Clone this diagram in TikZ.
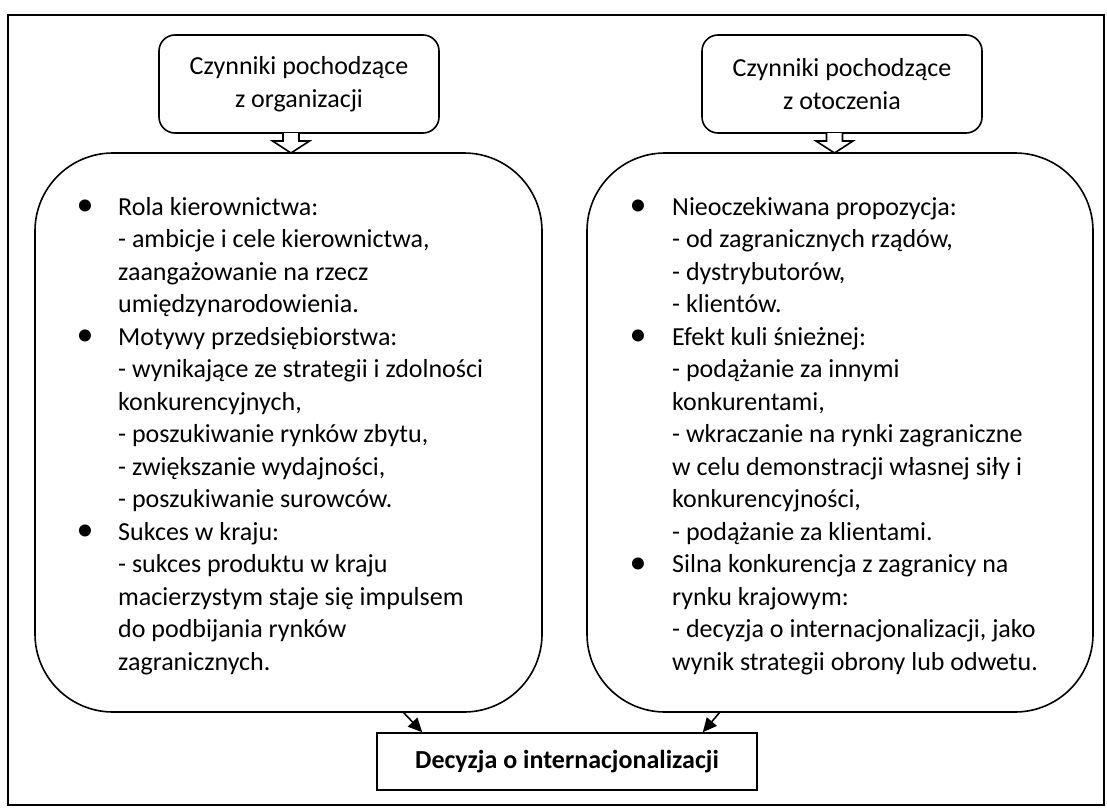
\documentclass[tikz,border=0pt]{standalone}
\usepackage{fontspec}
\setmainfont{Carlito}
\usetikzlibrary{arrows.meta}
\begin{document}
\begin{tikzpicture}[x=1pt,y=-1pt,
  every node/.style={font=\fontsize{26}{32.5}\selectfont},
  frame/.style={draw, line width=2pt},
  topbox/.style={draw, line width=1.6pt, rounded corners=16pt, minimum width=280pt, minimum height=98pt, align=center, inner sep=0pt, font=\fontsize{26}{33}\selectfont},
  bigbox/.style={draw, line width=1.6pt, rounded corners=78pt, inner sep=0pt},
  decbox/.style={draw, line width=1.6pt, minimum width=380pt, minimum height=57pt, inner sep=0pt, font=\fontsize{26}{32}\selectfont\bfseries},
  txtline/.style={anchor=base west, inner sep=0pt},
  bul/.style={inner sep=0pt, font=\fontsize{34}{34}\selectfont},
  hollow/.style={draw, line width=1.6pt, fill=white, line join=miter},
  conn/.style={draw, line width=1.6pt, -{Triangle[length=14pt,width=13pt]}}
]
\useasboundingbox (0,0) rectangle (1107,808);
\draw[frame] (8,15) rectangle (1104,805);

% top boxes
\node[topbox] (TL) at (299,84) {Czynniki pochodzące\\z organizacji};
\node[topbox] (TR) at (842,84) {Czynniki pochodzące\\z otoczenia};

% big boxes
\node[bigbox, minimum width=507pt, minimum height=559pt] (BL) at (288.5,432.5) {};
\node[bigbox, minimum width=506pt, minimum height=559pt] (BR) at (840,432.5) {};

% hollow arrows
\coordinate (aL) at (291,133);
\coordinate (aR) at (834.5,133);
\foreach \a in {aL,aR}{
  \draw[hollow] (\a) ++(-8,0) -- ++(0,8) -- ++(-10.5,0) -- ++(18.5,12) -- ++(18.5,-12) -- ++(-10.5,0) -- ++(0,-8);
}

% left text
\foreach \t [count=\i] in {
  {Rola kierownictwa:},
  {- ambicje i cele kierownictwa,},
  {zaangażowanie na rzecz},
  {umiędzynarodowienia.},
  {Motywy przedsiębiorstwa:},
  {- wynikające ze strategii i zdolności},
  {konkurencyjnych,},
  {- poszukiwanie rynków zbytu,},
  {- zwiększanie wydajności,},
  {- poszukiwanie surowców.},
  {Sukces w kraju:},
  {- sukces produktu w kraju},
  {macierzystym staje się impulsem},
  {do podbijania rynków},
  {zagranicznych.}}{
  \node[txtline] (L\i) at (118,{215+32.5*(\i-1)}) {\t};
}
\foreach \i in {1,5,11}{
  \node[bul] (bL\i) at (85,{208+32.5*(\i-1)}) {\textbullet};
}

% right text
\foreach \t [count=\i] in {
  {Nieoczekiwana propozycja:},
  {- od zagranicznych rządów,},
  {- dystrybutorów,},
  {- klientów.},
  {Efekt kuli śnieżnej:},
  {- podążanie za innymi},
  {konkurentami,},
  {- wkraczanie na rynki zagraniczne},
  {w celu demonstracji własnej siły i},
  {konkurencyjności,},
  {- podążanie za klientami.},
  {Silna konkurencja z zagranicy na},
  {rynku krajowym:},
  {- decyzja o internacjonalizacji, jako},
  {wynik strategii obrony lub odwetu.}}{
  \node[txtline] (R\i) at (672,{215+32.5*(\i-1)}) {\t};
}
\foreach \i in {1,5,12}{
  \node[bul] (bR\i) at (638,{208+32.5*(\i-1)}) {\textbullet};
}

% decision box
\node[decbox] (D) at (567,761.5) {Decyzja o internacjonalizacji};

% connectors
\coordinate (cL) at (403,712);
\coordinate (cR) at (720,712);
\draw[conn] (cL) -- ([xshift=46pt]D.north west);
\draw[conn] (cR) -- ([xshift=-55pt]D.north east);
\end{tikzpicture}
\end{document}
